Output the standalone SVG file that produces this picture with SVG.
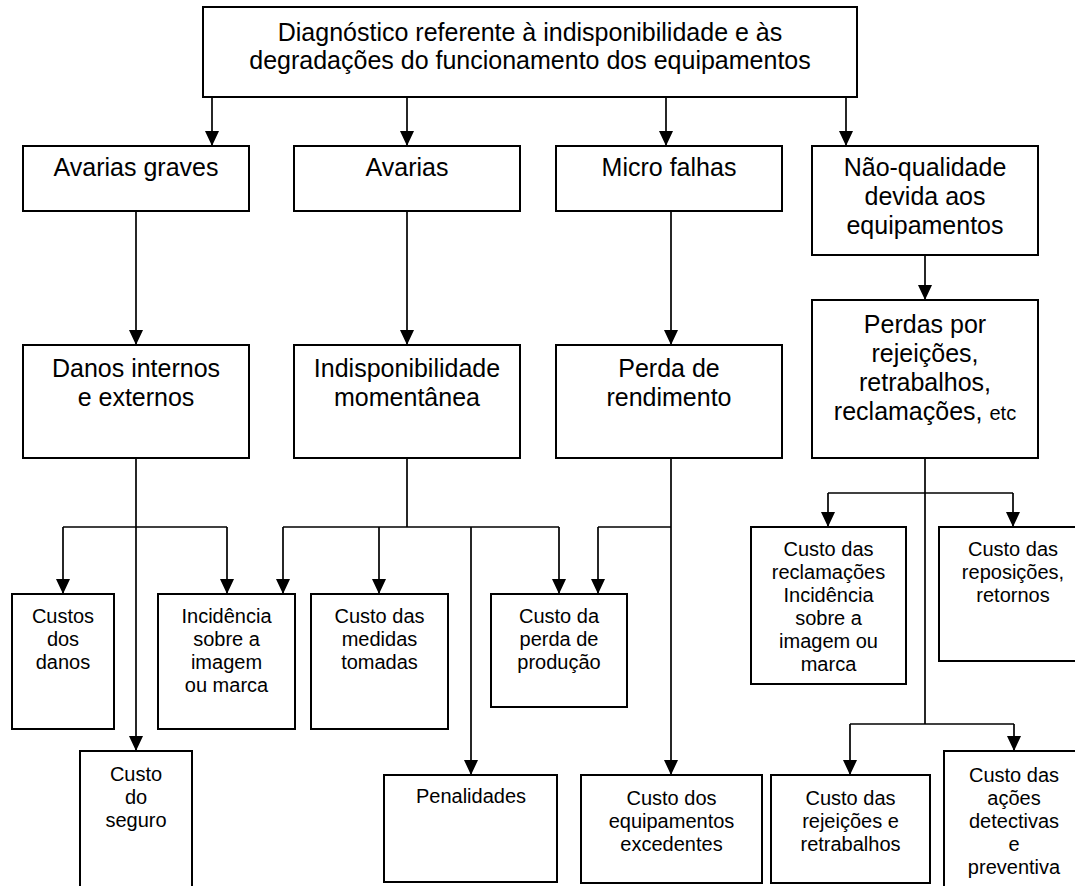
<svg xmlns="http://www.w3.org/2000/svg" width="1075" height="886" viewBox="0 0 1075 886">
  <defs>
    <marker id="head" markerUnits="userSpaceOnUse" markerWidth="15" markerHeight="14" refX="15" refY="7" orient="auto">
      <path d="M0,0 L15,7 L0,14 z" fill="#000"/>
    </marker>
    <style>
      .box { fill: #fff; stroke: #000; stroke-width: 2; }
      .t { font-family: "Liberation Sans", Arial, sans-serif; fill: #000; text-anchor: middle; }
      .big { font-size: 25px; }
      .sm { font-size: 20px; }
      .wire { fill: none; stroke: #000; stroke-width: 1.7; }
      .arr { marker-end: url(#head); }
    </style>
  </defs>
  <rect width="1075" height="886" fill="#fff"/>

  <!-- root -->
  <g id="root">
    <rect class="box" x="203" y="7" width="654" height="90"/>
    <text class="t big" x="530" y="41">Diagnóstico referente à indisponibilidade e às</text>
    <text class="t big" x="530" y="69">degradações do funcionamento dos equipamentos</text>
  </g>

  <!-- first level -->
  <g id="avarias-graves">
    <rect class="box" x="23" y="146" width="226" height="65"/>
    <text class="t big" x="136" y="176">Avarias graves</text>
  </g>
  <g id="avarias">
    <rect class="box" x="294" y="146" width="226" height="65"/>
    <text class="t big" x="407" y="176">Avarias</text>
  </g>
  <g id="micro-falhas">
    <rect class="box" x="556" y="146" width="226" height="65"/>
    <text class="t big" x="669" y="176">Micro falhas</text>
  </g>
  <g id="nao-qualidade">
    <rect class="box" x="812" y="146" width="226" height="109"/>
    <text class="t big" x="925" y="176">Não-qualidade</text>
    <text class="t big" x="925" y="205">devida aos</text>
    <text class="t big" x="925" y="234">equipamentos</text>
  </g>

  <!-- second level -->
  <g id="danos">
    <rect class="box" x="23" y="345" width="226" height="113"/>
    <text class="t big" x="136" y="377">Danos internos</text>
    <text class="t big" x="136" y="406">e externos</text>
  </g>
  <g id="indisponibilidade">
    <rect class="box" x="294" y="345" width="226" height="113"/>
    <text class="t big" x="407" y="377">Indisponibilidade</text>
    <text class="t big" x="407" y="406">momentânea</text>
  </g>
  <g id="perda-rendimento">
    <rect class="box" x="556" y="345" width="226" height="113"/>
    <text class="t big" x="669" y="377">Perda de</text>
    <text class="t big" x="669" y="406">rendimento</text>
  </g>
  <g id="perdas-rejeicoes">
    <rect class="box" x="812" y="300" width="226" height="158"/>
    <text class="t big" x="925" y="333">Perdas por</text>
    <text class="t big" x="925" y="362">rejeições,</text>
    <text class="t big" x="925" y="391">retrabalhos,</text>
    <text class="t big" x="925" y="420">reclamações, <tspan font-size="20">etc</tspan></text>
  </g>

  <!-- cost boxes -->
  <g id="custos-danos">
    <rect class="box" x="12" y="594" width="102" height="135"/>
    <text class="t sm" x="63" y="623">Custos</text>
    <text class="t sm" x="63" y="646">dos</text>
    <text class="t sm" x="63" y="669">danos</text>
  </g>
  <g id="incidencia">
    <rect class="box" x="158" y="594" width="137" height="135"/>
    <text class="t sm" x="226.5" y="623">Incidência</text>
    <text class="t sm" x="226.5" y="646">sobre a</text>
    <text class="t sm" x="226.5" y="669">imagem</text>
    <text class="t sm" x="226.5" y="692">ou marca</text>
  </g>
  <g id="medidas">
    <rect class="box" x="311" y="594" width="137" height="135"/>
    <text class="t sm" x="379.5" y="623">Custo das</text>
    <text class="t sm" x="379.5" y="646">medidas</text>
    <text class="t sm" x="379.5" y="669">tomadas</text>
  </g>
  <g id="perda-producao">
    <rect class="box" x="491" y="594" width="136" height="113"/>
    <text class="t sm" x="559" y="623">Custo da</text>
    <text class="t sm" x="559" y="646">perda de</text>
    <text class="t sm" x="559" y="669">produção</text>
  </g>
  <g id="reclamacoes">
    <rect class="box" x="751" y="527" width="155" height="157"/>
    <text class="t sm" x="828.5" y="556">Custo das</text>
    <text class="t sm" x="828.5" y="579">reclamações</text>
    <text class="t sm" x="828.5" y="602">Incidência</text>
    <text class="t sm" x="828.5" y="625">sobre a</text>
    <text class="t sm" x="828.5" y="648">imagem ou</text>
    <text class="t sm" x="828.5" y="671">marca</text>
  </g>
  <g id="reposicoes">
    <rect class="box" x="939" y="527" width="148" height="134"/>
    <text class="t sm" x="1013" y="556">Custo das</text>
    <text class="t sm" x="1013" y="579">reposições,</text>
    <text class="t sm" x="1013" y="602">retornos</text>
  </g>
  <g id="seguro">
    <rect class="box" x="80" y="751" width="112" height="145"/>
    <text class="t sm" x="136" y="781">Custo</text>
    <text class="t sm" x="136" y="804">do</text>
    <text class="t sm" x="136" y="827">seguro</text>
  </g>
  <g id="penalidades">
    <rect class="box" x="384" y="775" width="173" height="107"/>
    <text class="t sm" x="471" y="803">Penalidades</text>
  </g>
  <g id="equipamentos-excedentes">
    <rect class="box" x="581" y="775" width="181" height="108"/>
    <text class="t sm" x="671.5" y="805">Custo dos</text>
    <text class="t sm" x="671.5" y="828">equipamentos</text>
    <text class="t sm" x="671.5" y="851">excedentes</text>
  </g>
  <g id="rejeicoes">
    <rect class="box" x="771" y="775" width="159" height="108"/>
    <text class="t sm" x="850.5" y="805">Custo das</text>
    <text class="t sm" x="850.5" y="828">rejeições e</text>
    <text class="t sm" x="850.5" y="851">retrabalhos</text>
  </g>
  <g id="acoes">
    <rect class="box" x="944" y="751" width="140" height="145"/>
    <text class="t sm" x="1014" y="782">Custo das</text>
    <text class="t sm" x="1014" y="805">ações</text>
    <text class="t sm" x="1014" y="828">detectivas</text>
    <text class="t sm" x="1014" y="851">e</text>
    <text class="t sm" x="1014" y="874">preventiva</text>
  </g>

  <!-- connectors -->
  <g id="connectors" class="wire">
    <!-- root to first level -->
    <path class="arr" d="M212,97 V146"/>
    <path class="arr" d="M407,97 V146"/>
    <path class="arr" d="M666,97 V146"/>
    <path class="arr" d="M846,97 V146"/>
    <!-- first to second level -->
    <path class="arr" d="M136,211 V345"/>
    <path class="arr" d="M407,211 V345"/>
    <path class="arr" d="M671,211 V345"/>
    <path class="arr" d="M925,255 V300"/>
    <!-- danos internos e externos -->
    <path class="arr" d="M136,458 V751"/>
    <path d="M63,527 H227"/>
    <path class="arr" d="M63,527 V594"/>
    <path class="arr" d="M227,527 V594"/>
    <!-- indisponibilidade momentânea -->
    <path d="M407,458 V527"/>
    <path d="M283,527 H559"/>
    <path class="arr" d="M283,527 V594"/>
    <path class="arr" d="M379,527 V594"/>
    <path class="arr" d="M559,527 V594"/>
    <path class="arr" d="M471,527 V775"/>
    <!-- perda de rendimento -->
    <path class="arr" d="M671,458 V775"/>
    <path d="M598,527 H671"/>
    <path class="arr" d="M598,527 V594"/>
    <!-- perdas por rejeições -->
    <path d="M925,458 V724"/>
    <path d="M828,493 H1013"/>
    <path class="arr" d="M828,493 V527"/>
    <path class="arr" d="M1013,493 V527"/>
    <path d="M850,724 H1014"/>
    <path class="arr" d="M850,724 V775"/>
    <path class="arr" d="M1014,724 V751"/>
  </g>
</svg>
